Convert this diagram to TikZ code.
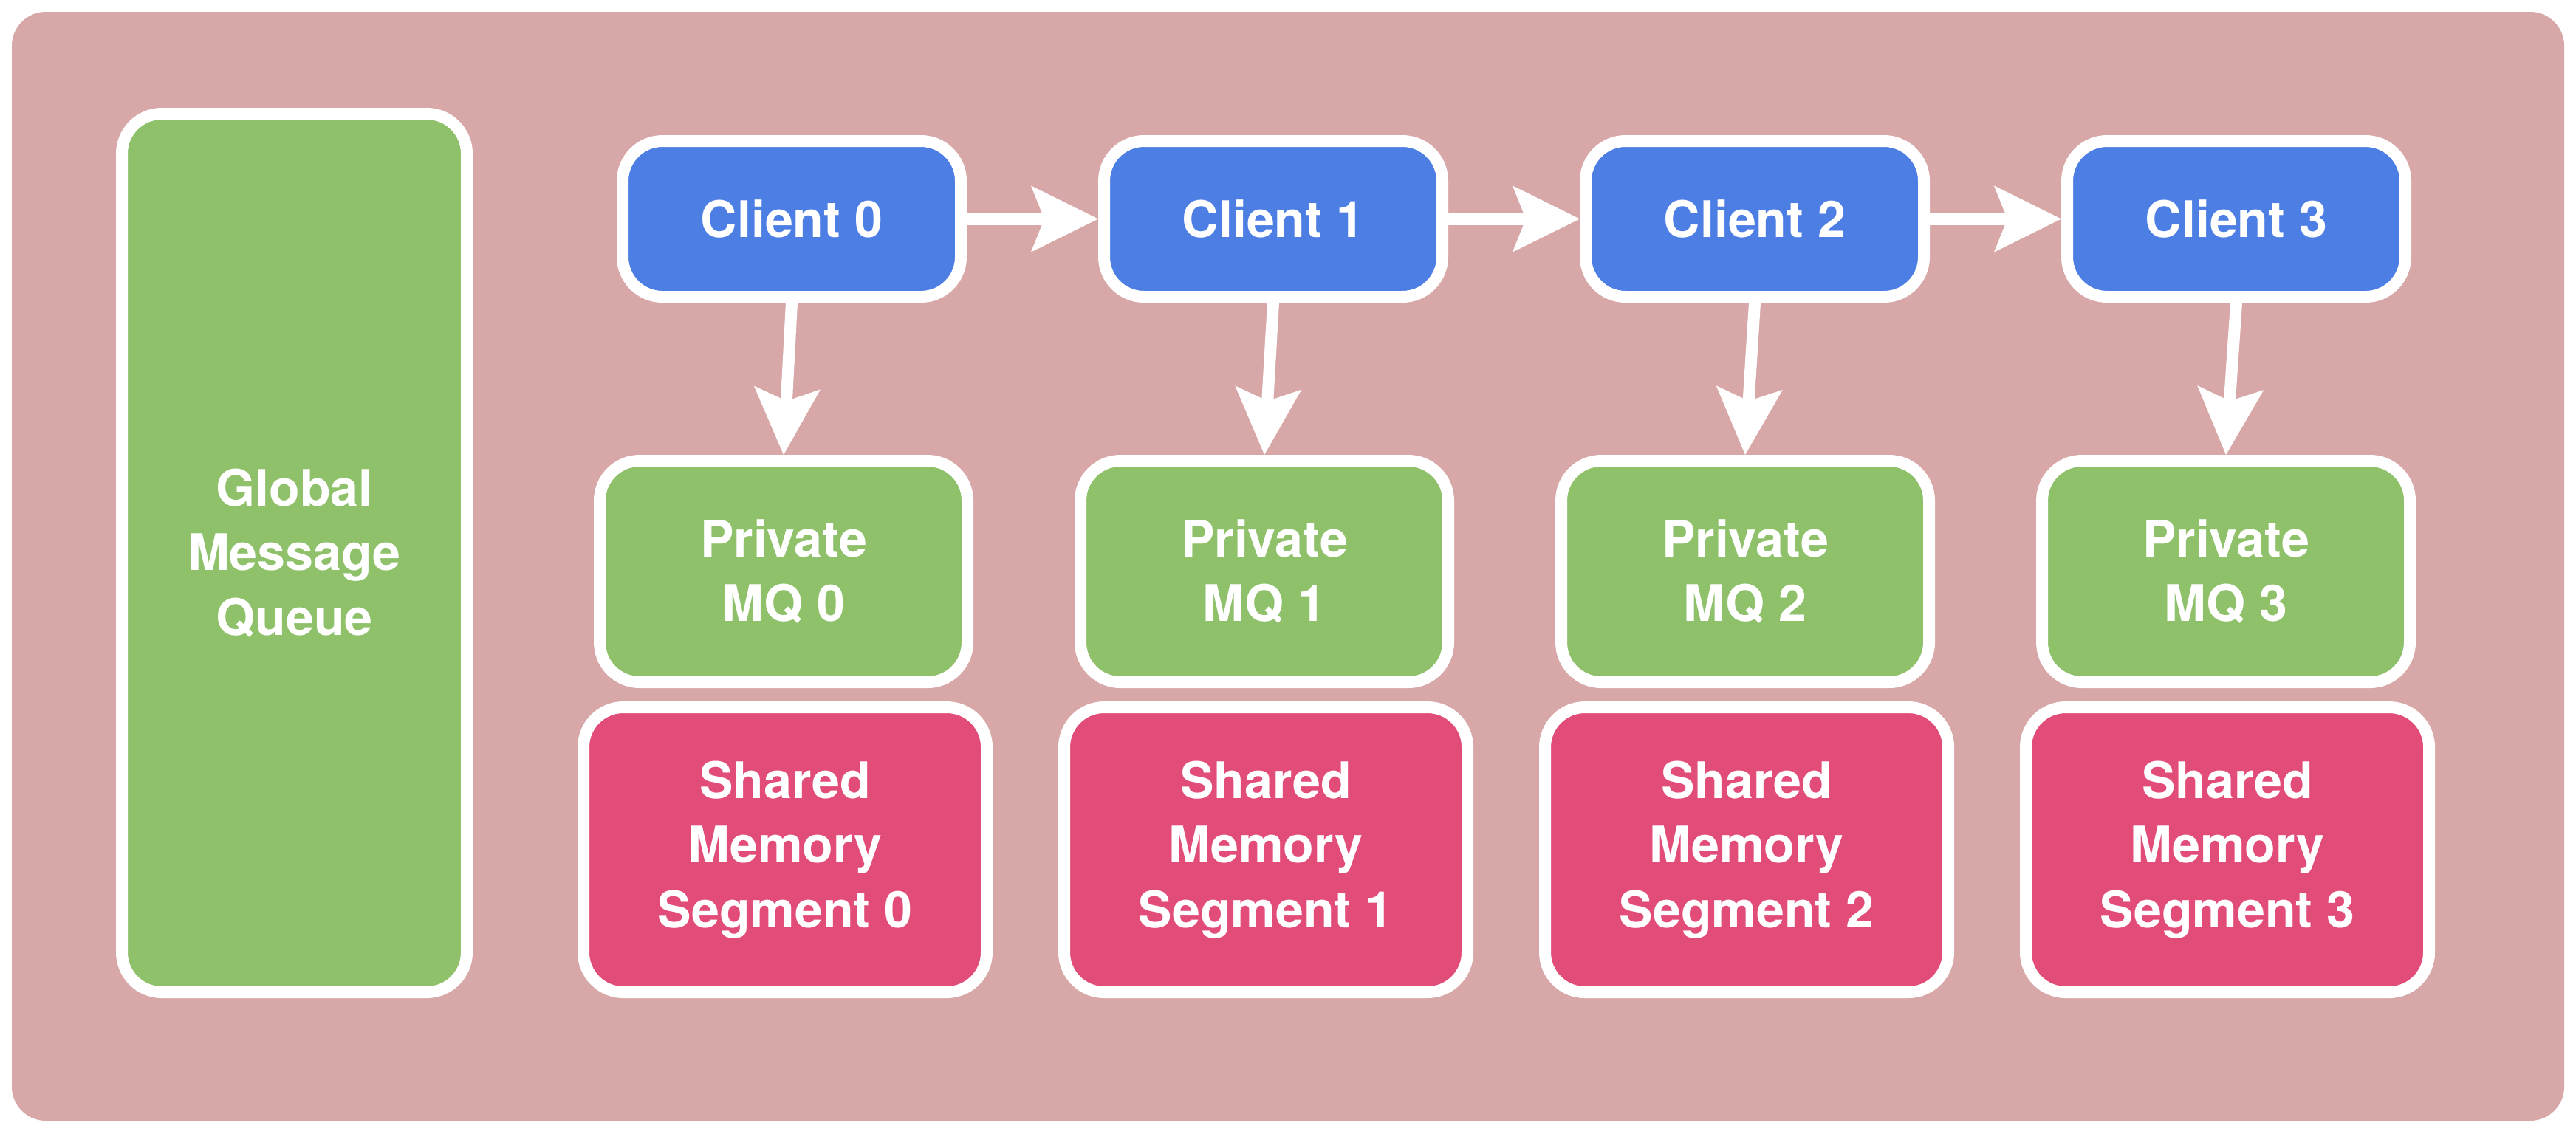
\documentclass[tikz,border=0pt]{standalone}
\usepackage{fontspec}
\setmainfont{TeX Gyre Heros}
\usetikzlibrary{arrows.meta}

\definecolor{bgpink}{RGB}{216,168,168}
\definecolor{clientblue}{RGB}{76,126,228}
\definecolor{queuegreen}{RGB}{143,192,106}
\definecolor{shmred}{RGB}{226,76,120}

\begin{document}
\begin{tikzpicture}[
    box/.style={draw=white, line width=1.6mm, rounded corners=5.4mm, text=white, align=center, inner sep=0pt,
        font=\bfseries\fontsize{19.4pt}{24.9pt}\selectfont},
    client/.style={box, fill=clientblue, minimum width=4.58cm, minimum height=2.11cm},
    privmq/.style={box, fill=queuegreen, minimum width=4.98cm, minimum height=3cm},
    shmem/.style={box, fill=shmred, minimum width=5.46cm, minimum height=3.86cm},
    flow/.style={draw=white, line width=1.6mm, -{Stealth[length=9.1mm, width=9mm, inset=1.8mm, line width=0.4pt]}}
]
    % Frame
    \useasboundingbox (0, 0) rectangle (34.88, -15.35);
    \fill[bgpink, rounded corners=4.6mm] (0.16, -0.16) rectangle (34.72, -15.18);

    % Global queue
    \node[box, fill=queuegreen, minimum width=4.67cm, minimum height=11.9cm] (gmq) at (3.985, -7.49) {Global\\Message\\Queue};

    % Clients
    \node[client] (c0) at (10.72, -2.965) {Client 0};
    \node[client] (c1) at (17.24, -2.965) {Client 1};
    \node[client] (c2) at (23.76, -2.965) {Client 2};
    \node[client] (c3) at (30.28, -2.965) {Client 3};

    % Private queues
    \node[privmq] (p0) at (10.61, -7.74) {Private\\MQ 0};
    \node[privmq] (p1) at (17.12, -7.74) {Private\\MQ 1};
    \node[privmq] (p2) at (23.63, -7.74) {Private\\MQ 2};
    \node[privmq] (p3) at (30.14, -7.74) {Private\\MQ 3};

    % Shared memory
    \node[shmem] (s0) at (10.63, -11.51) {Shared\\Memory\\Segment 0};
    \node[shmem] (s1) at (17.14, -11.51) {Shared\\Memory\\Segment 1};
    \node[shmem] (s2) at (23.65, -11.51) {Shared\\Memory\\Segment 2};
    \node[shmem] (s3) at (30.16, -11.51) {Shared\\Memory\\Segment 3};

    \draw[flow] (c0) -- (c1);
    \draw[flow] (c1) -- (c2);
    \draw[flow] (c2) -- (c3);
    \draw[flow] (c0.south) -- (p0.north);
    \draw[flow] (c1.south) -- (p1.north);
    \draw[flow] (c2.south) -- (p2.north);
    \draw[flow] (c3.south) -- (p3.north);
\end{tikzpicture}
\end{document}
